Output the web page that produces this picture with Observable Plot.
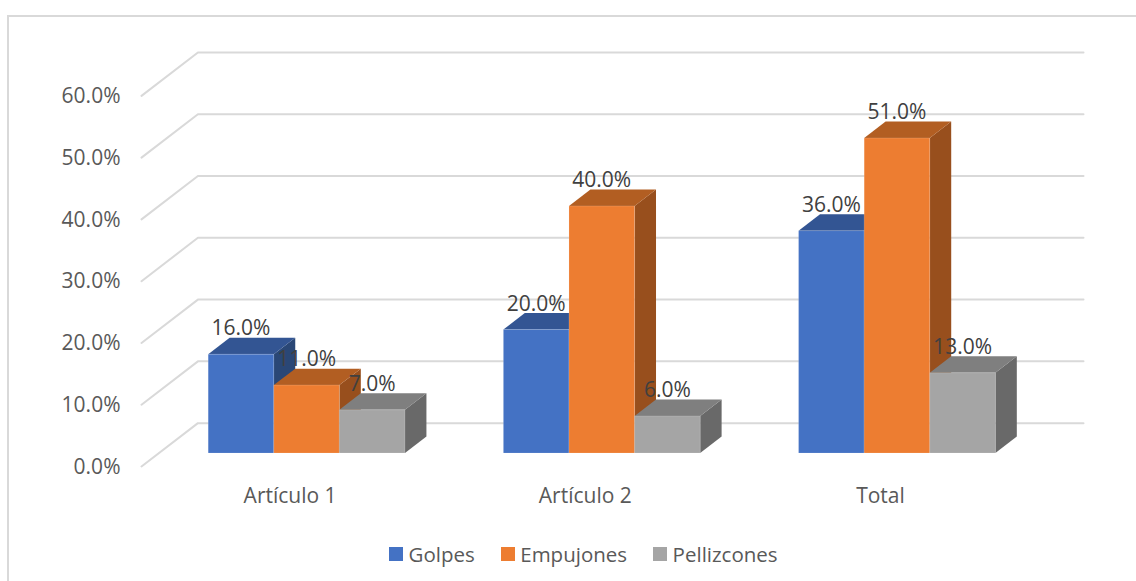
<!DOCTYPE html>
<html lang="es">
<head>
<meta charset="utf-8">
<script src="https://cdn.jsdelivr.net/npm/d3@7"></script>
<script src="https://cdn.jsdelivr.net/npm/@observablehq/plot@0.6"></script>
<style>
  html, body { margin: 0; padding: 0; background: #fff; width: 1136px; height: 581px; overflow: hidden; }
  #frame { position: absolute; left: 7px; top: 15px; right: 0; bottom: 0; border-left: 2px solid #d9d9d9; border-top: 2px solid #d9d9d9; }
  #chart { position: absolute; left: 0; top: 0; }
  #legend { position: absolute; left: 389px; top: 538px; display: flex; align-items: center; height: 32px;
            font: 20.5px "Open Sans", sans-serif; color: #595959; white-space: nowrap; }
  #legend span.k { display: inline-block; width: 14px; height: 14px; margin-right: 5.5px; }
  #legend span.i { display: flex; align-items: center; margin-right: 26px; }
</style>
</head>
<body>
<div id="frame"></div>
<div id="chart"></div>
<div id="legend"></div>
<script>
const categories = ["Artículo 1", "Artículo 2", "Total"];
const seriesNames = ["Golpes", "Empujones", "Pellizcones"];
const golpes = [16, 20, 36];
const empujones = [11, 40, 51];
const pellizcones = [7, 6, 13];
const seriesValues = [golpes, empujones, pellizcones];
const yTicks = [0, 10, 20, 30, 40, 50, 60];
const frontColors = ["#4472C4", "#ED7D31", "#A5A5A5"];
const topColors = ["#335593", "#B25E22", "#7F7F7F"];
const sideColors = ["#2A4776", "#984F1D", "#696969"];

// Oblique projection of the 3-D column chart: x is in bar widths, y in percent,
// t is depth from the front edge of the floor (0) to the back wall (1).
const slot = 4.5, lead = 0.75;
const depthX = 0.86, depthY = 7.02;
const t0 = 0.31, t1 = 0.69;
const P = (x, v, t, face) => ({px: x + t * depthX, py: v + t * depthY, face});

const xDomainMax = categories.length * slot;

const gridRows = yTicks.flatMap(v => [
  P(0, v, 0, v), P(0, v, 1, v), P(xDomainMax, v, 1, v)
]);

const marks = [
  Plot.line(gridRows, {x: "px", y: "py", z: "face", stroke: "#d9d9d9", strokeWidth: 2})
];

categories.forEach((cat, i) => {
  seriesNames.forEach((name, s) => {
    const v = seriesValues[s][i];
    const a = i * slot + lead + s, b = a + 1;
    const side = [P(b, 0, t0), P(b, 0, t1), P(b, v, t1), P(b, v, t0), P(b, 0, t0)];
    const top = [P(a, v, t0), P(a, v, t1), P(b, v, t1), P(b, v, t0), P(a, v, t0)];
    const front = [P(a, 0, t0), P(b, 0, t0), P(b, v, t0), P(a, v, t0), P(a, 0, t0)];
    marks.push(
      Plot.line(side, {x: "px", y: "py", fill: sideColors[s], stroke: "none"}),
      Plot.line(top, {x: "px", y: "py", fill: topColors[s], stroke: "none"}),
      Plot.line(front, {x: "px", y: "py", fill: frontColors[s], stroke: "#ffffff", strokeOpacity: 0.15, strokeWidth: 1})
    );
  });
});

const labelRows = categories.flatMap((cat, i) => seriesNames.map((name, s) => {
  const v = seriesValues[s][i];
  return {...P(i * slot + lead + s + 0.5, v, t0), label: v.toFixed(1) + "%"};
}));
marks.push(Plot.text(labelRows, {x: "px", y: "py", text: "label", dy: -25.5, fill: "#404040", fontSize: 21}));

marks.push(
  Plot.axisY({ticks: yTicks, tickFormat: d => d.toFixed(1) + "%", tickSize: 0, tickPadding: 21,
              anchor: "left", label: null, color: "#595959", fontSize: 21, dy: 0.5}),
  Plot.axisX({ticks: categories.map((c, i) => (i + 0.5) * slot), tickFormat: (d, i) => categories[i],
              tickSize: 0, tickPadding: 22, anchor: "bottom", label: null, color: "#595959", fontSize: 21, dx: 1})
);

const plot = Plot.plot({
  width: 1136,
  height: 530,
  marginLeft: 141,
  marginRight: 53,
  marginTop: 52,
  marginBottom: 64,
  style: {background: "transparent", fontFamily: '"Open Sans", sans-serif', fontSize: "21px"},
  x: {type: "linear", domain: [0, xDomainMax + depthX]},
  y: {type: "linear", domain: [0, 60 + depthY]},
  marks
});
document.getElementById("chart").append(plot);

const legend = document.getElementById("legend");
seriesNames.forEach((name, s) => {
  const item = document.createElement("span");
  item.className = "i";
  const key = document.createElement("span");
  key.className = "k";
  key.style.background = frontColors[s];
  item.append(key, document.createTextNode(name));
  legend.append(item);
});
</script>
</body>
</html>
